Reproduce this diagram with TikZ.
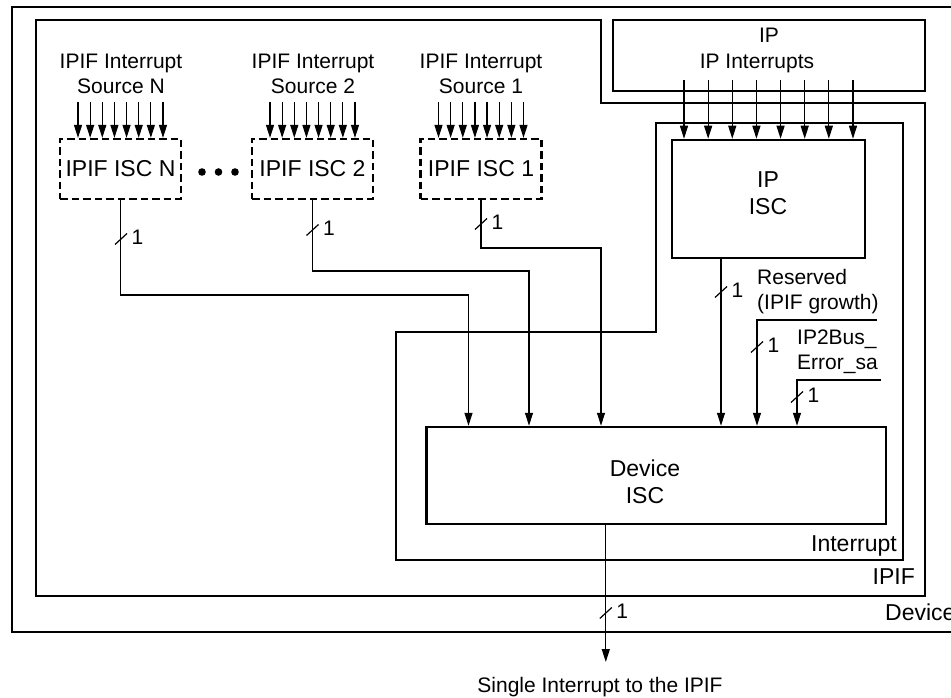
\documentclass[tikz,border=0pt]{standalone}
\usepackage{fontspec}
\setmainfont{Liberation Sans}
\usetikzlibrary{arrows.meta,calc}
\begin{document}
\begin{tikzpicture}[x=1pt,y=-1pt,
  outerwall/.style={line width=2.9pt},
  wall/.style={line width=2.5pt},
  blk/.style={draw, line width=2.5pt, inner sep=0pt},
  dblk/.style={draw, line width=2.2pt, dash pattern=on 7.5pt off 4pt, inner sep=0pt,
    minimum width=121pt, minimum height=60pt, font=\fontsize{23}{27}\selectfont},
  wire/.style={line width=1.2pt},
  arr/.style={wire, -{Triangle[length=13pt,width=8pt]}},
  txt/.style={inner sep=0pt, font=\fontsize{21}{25}\selectfont, align=center},
  bigtxt/.style={inner sep=0pt, font=\fontsize{23}{27}\selectfont, align=center}]
\useasboundingbox (0,0) rectangle (951,698);

% containers
\draw[outerwall] (975,7) -- (12,7) -- (12,632) -- (975,632);
\draw[wall] (36,20) -- (601,20) -- (601,103) -- (925,103) -- (925,596) -- (36,596) -- cycle;
\draw[wall] (656,123) -- (903,123) -- (903,560) -- (396,560) -- (396,332) -- (656,332) -- cycle;

% blocks
\node[blk, minimum width=312pt, minimum height=71pt] (ip) at (769,55.5) {};
\node[blk, minimum width=193pt, minimum height=118pt] (ipisc) at (768.5,199) {};
\node[blk, minimum width=459.4pt, minimum height=97pt] (devisc) at (656.3,475.5) {};
\node[dblk] (iscN) at (120.5,169) {IPIF ISC N};
\node[dblk] (iscB) at (312.5,169) {IPIF ISC 2};
\node[dblk] (iscA) at (481,169) {IPIF ISC 1};

% dots
\fill (202,172) circle[radius=3.8pt];
\fill (218.5,172) circle[radius=3.8pt];
\fill (235,172) circle[radius=3.8pt];

% texts
\node[txt, anchor=north] (srcN) at (121,53.5) {IPIF Interrupt\\Source N};
\node[txt, anchor=north] (srcB) at (313,53.5) {IPIF Interrupt\\Source 2};
\node[txt, anchor=north] (srcA) at (481,53.5) {IPIF Interrupt\\Source 1};
\node[txt, anchor=north] (iplbl) at (769,27.5) {IP};
\node[txt, anchor=north] (ipintlbl) at (757,53.5) {IP Interrupts};
\node[bigtxt, anchor=north] (ipisclbl) at (768,171.7) {IP\\ISC};
\node[bigtxt, anchor=north] (devisclbl) at (645,459.7) {Device\\ISC};
\node[txt, anchor=north west, align=left] (resvlbl) at (757,269.5) {Reserved\\(IPIF growth)};
\node[txt, anchor=north west, align=left] (errlbl) at (797,329.5) {IP2Bus\_\\Error\_sa};
\node[bigtxt, anchor=north east] (intlbl) at (897,535.7) {Interrupt};
\node[bigtxt, anchor=north east] (ipiflbl) at (915,568.7) {IPIF};
\node[bigtxt, anchor=north west] (devlbl) at (885,603.7) {Device};
\node[txt, anchor=north] (outlbl) at (600,677.5) {Single Interrupt to the IPIF};

% source arrows
\foreach \b in {iscN,iscB,iscA}
  \foreach \k in {0,...,7}
    \draw[arr] ($(\b.north)+({(\k-3.5)*12.14},-36)$) -- ($(\b.north)+({(\k-3.5)*12.14},0)$);

% IP interrupt arrows
\foreach \k in {0,...,7} {
  \coordinate (ips\k) at ({684+\k*24.14},80);
  \draw[arr] (ips\k) -- (ips\k |- ipisc.north);
}

% connectors to device ISC
\coordinate (bendN) at (468.5,295);
\coordinate (bendB) at (529,271);
\coordinate (bendA) at (601,248);
\coordinate (resv) at (877,320);
\coordinate (errs) at (881,380);
\coordinate (outend) at (605.8,662);
\draw[arr] (iscN.south) |- (bendN) -- (bendN |- devisc.north);
\draw[arr] (iscB.south) |- (bendB) -- (bendB |- devisc.north);
\draw[arr] (iscA.south) |- (bendA) -- (bendA |- devisc.north);
\draw[arr] (721,0 |- ipisc.south) -- (721,0 |- devisc.north);
\draw[arr] (resv) -| (757,0 |- devisc.north);
\draw[arr] (errs) -| (797,0 |- devisc.north);
\draw[arr] (outend |- devisc.south) -- (outend);

% bus width marks
\foreach \x/\y [count=\i] in {121/239, 312.5/230, 481/224, 721/292, 757/347, 797/397, 605.8/613} {
  \draw[wire] (\x-6,\y+5.5) -- (\x+6,\y-5.5);
  \node[txt] (w\i) at (\x+16.5,\y-2) {1};
}
\end{tikzpicture}
\end{document}
